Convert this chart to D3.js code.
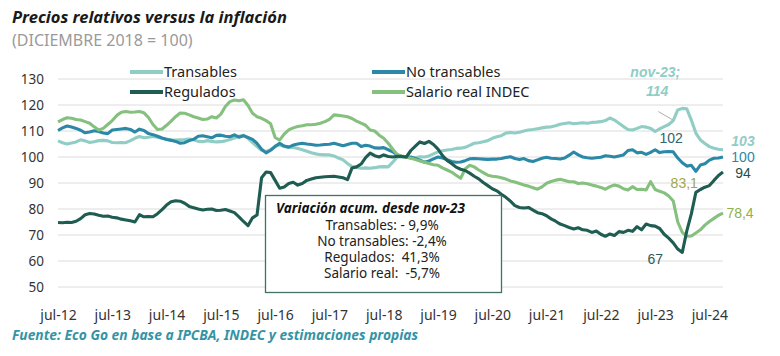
<!DOCTYPE html>
<html><head><meta charset="utf-8">
<script src="https://cdn.jsdelivr.net/npm/d3@7/dist/d3.min.js"></script>
<style>
html,body{margin:0;padding:0;background:#fff;}
svg{display:block;font-family:"Noto Sans",sans-serif;}
</style></head>
<body><svg id="c" width="780" height="356"></svg>
<script>
// ---------- DATA ----------
const startMonth = new Date(2012, 6, 1);   // jul-12
const endMonth = new Date(2024, 10, 1);    // exclusive -> last = oct-24
const months = d3.timeMonth.range(startMonth, endMonth);
const tickLabels = ["jul-12","jul-13","jul-14","jul-15","jul-16","jul-17","jul-18","jul-19","jul-20","jul-21","jul-22","jul-23","jul-24"];
const yTicks = [50,60,70,80,90,100,110,120,130];

const transables = [
106.2,105.5,105.0,105.4,105.8,106.6,106.2,105.6,105.9,106.3,106.4,106.2,
105.6,105.5,105.6,105.5,106.3,107.2,107.9,107.4,107.6,107.9,107.6,107.2,
106.9,106.6,106.5,106.6,106.7,106.9,106.6,106.0,105.9,106.3,106.0,105.8,
105.9,106.2,106.7,107.3,108.0,108.4,107.2,105.5,104.0,102.6,102.1,102.8,
104.2,104.6,104.0,103.8,103.7,103.3,102.8,102.2,101.6,101.2,100.9,100.8,
100.8,100.4,99.6,98.9,97.5,96.3,96.0,95.7,95.8,95.7,95.9,96.2,
96.3,96.2,98.0,100.0,100.0,100.0,99.5,99.7,100.1,100.0,100.4,101.2,
102.0,102.4,102.7,102.9,103.3,103.4,103.7,104.5,105.3,105.5,105.9,106.3,
107.2,107.8,108.2,109.2,109.4,109.2,109.5,110.0,110.4,110.6,110.9,111.2,
111.5,111.6,112.0,112.6,112.9,113.2,112.8,113.0,113.2,113.0,113.3,113.4,
113.6,114.0,115.0,114.2,113.0,111.7,110.6,110.4,111.0,111.7,111.5,111.0,
109.8,110.8,111.7,112.5,114.0,118.1,118.7,118.5,114.2,109.2,106.6,105.2,
104.0,103.4,103.0,102.8];

const noTransables = [
110.2,111.2,111.9,111.5,111.0,110.3,109.3,109.6,110.1,109.8,109.2,109.0,
110.4,110.6,110.8,111.0,110.6,109.6,110.7,110.2,109.0,108.6,108.0,107.3,
106.7,106.4,106.0,105.3,105.5,106.3,106.8,108.0,108.2,107.8,107.4,108.3,
108.4,108.0,107.8,108.5,107.6,108.2,107.5,106.8,105.2,103.0,101.6,102.6,
104.0,105.3,104.2,103.8,104.6,105.0,105.3,105.0,104.8,104.5,104.6,104.8,
104.9,105.3,104.8,104.3,104.8,105.3,105.3,104.0,104.5,104.2,103.5,103.4,
103.6,102.8,102.0,100.8,100.2,100.0,100.0,99.4,98.8,98.0,98.5,99.3,
100.0,99.6,99.0,98.3,98.0,98.1,98.6,99.3,99.4,99.3,99.2,99.1,
99.2,99.2,99.4,99.8,100.1,99.4,99.0,99.4,98.6,98.3,98.9,99.5,
99.9,99.5,99.4,99.2,99.6,100.7,101.9,100.8,100.0,99.7,99.5,99.7,
99.9,100.5,100.3,100.0,100.4,100.8,102.5,102.8,101.6,101.8,101.0,101.8,
102.8,101.7,102.0,102.1,102.0,99.6,97.8,96.5,96.8,94.5,96.9,97.4,
98.8,99.5,99.6,100.0];

const regulados = [
74.8,74.7,74.9,74.8,75.3,76.3,77.8,78.3,78.1,77.6,77.2,77.3,
76.8,76.6,76.1,75.8,75.5,75.0,77.8,77.0,77.1,77.0,78.2,79.8,
81.5,82.8,83.2,83.0,82.2,81.0,80.5,80.0,79.6,79.9,80.0,79.4,
79.5,79.8,79.2,78.6,77.0,75.2,73.6,76.6,77.7,92.0,94.2,94.0,
91.0,88.0,88.5,89.8,90.3,89.2,89.8,91.0,91.5,92.0,92.2,92.4,
92.5,92.6,92.3,92.0,91.3,95.8,96.2,97.3,99.8,101.5,100.5,100.0,
100.8,100.2,100.0,100.3,100.2,100.0,102.5,104.2,105.8,105.2,106.0,104.8,
103.0,100.5,98.7,97.5,96.1,95.3,94.8,93.8,92.6,91.6,90.2,89.0,
87.8,87.0,85.7,84.5,83.0,81.3,80.6,80.4,80.6,79.6,78.6,78.2,
77.4,76.2,75.3,74.2,73.6,72.9,72.3,72.8,72.0,71.8,71.0,71.5,
70.3,69.5,70.4,69.8,71.3,71.0,71.8,71.4,73.2,72.0,74.2,73.6,
73.4,72.5,70.3,68.8,67.0,64.6,63.3,71.6,78.1,86.4,87.5,88.4,
89.0,91.0,92.9,94.2];

const salarioReal = [
113.5,114.4,115.1,114.9,114.4,114.2,113.6,113.0,111.6,110.4,111.0,112.5,
114.0,116.0,117.2,117.5,117.2,117.3,117.5,117.0,115.2,112.5,110.6,110.8,
112.2,113.8,115.5,116.9,116.8,116.2,115.5,115.0,114.4,114.6,115.5,115.0,
116.5,119.4,121.3,121.9,121.6,122.0,119.8,116.8,115.5,114.9,114.0,112.8,
107.5,106.5,108.8,110.4,111.2,111.7,112.0,112.4,112.4,112.6,113.0,113.6,
114.5,116.2,116.0,115.8,115.5,114.8,113.8,113.0,112.2,110.4,110.0,108.4,
107.2,105.3,103.0,101.0,100.4,100.0,99.5,99.0,98.5,98.0,97.5,97.0,
96.8,95.8,95.0,94.2,93.0,91.8,95.4,96.8,96.2,95.0,94.0,93.0,
92.6,92.4,92.0,91.5,90.8,90.4,89.8,89.2,88.8,88.2,87.6,88.5,
89.9,90.6,91.1,91.4,91.0,90.5,90.5,89.8,90.0,89.7,89.2,88.8,
88.3,87.6,88.6,89.2,88.8,87.8,87.3,88.6,87.5,87.6,87.3,90.5,
87.5,86.8,86.2,85.0,83.1,75.0,71.0,69.5,69.6,70.8,72.0,73.8,
75.2,76.4,77.6,78.4];

const seriesNames = ["Transables","No transables","Regulados","Salario real INDEC"];
const boxTitle = "Variación acum. desde nov-23";
const boxLines = ["Transables: - 9,9%","No transables: -2,4%","Regulados:  41,3%","Salario real:  -5,7%"];

// ---------- CHART ----------
const svg = d3.select("#c");
const fmt = d3.timeFormat("%Y-%m");
const keys = months.map(fmt);
const monthName = ["ene","feb","mar","abr","may","jun","jul","ago","sep","oct","nov","dic"];
const lbl = d => monthName[d.getMonth()] + "-" + String(d.getFullYear()).slice(2);

const x = d3.scalePoint().domain(keys).range([58, 723]);
const y = d3.scaleLinear().domain([50, 130]).range([287, 79]);

const colors = {
  "Transables": "#8fcdc5",
  "No transables": "#2b89a7",
  "Regulados": "#1f5d52",
  "Salario real INDEC": "#86c07f"
};
const dataBy = {
  "Transables": transables,
  "No transables": noTransables,
  "Regulados": regulados,
  "Salario real INDEC": salarioReal
};

// grid
svg.append("g").selectAll("line").data(yTicks).join("line")
  .attr("x1", 58).attr("x2", 723)
  .attr("y1", d => y(d)).attr("y2", d => y(d))
  .attr("stroke", "#dcdcdc").attr("stroke-width", 1);

// y axis
const yAxis = svg.append("g").attr("transform", "translate(44,0)")
  .call(d3.axisLeft(y).tickValues(yTicks).tickSize(0).tickPadding(0));
yAxis.select(".domain").remove();
yAxis.selectAll("text").attr("font-size", 13.5).attr("fill", "#333")
  .attr("font-family", "Noto Sans");

// x axis
const tickKeys = keys.filter((k, i) => tickLabels.includes(lbl(months[i])));
const xAxis = svg.append("g").attr("transform", "translate(0,310)")
  .call(d3.axisBottom(x).tickValues(tickKeys).tickSize(0).tickPadding(0)
    .tickFormat(k => lbl(months[keys.indexOf(k)])));
xAxis.select(".domain").remove();
xAxis.selectAll("text").attr("font-size", 14).attr("fill", "#333")
  .attr("font-family", "Noto Sans").attr("dy", "0.7em");

// lines
const line = d3.line().x((d, i) => x(keys[i])).y(d => y(d)).curve(d3.curveLinear);
["Transables","No transables","Salario real INDEC","Regulados"].forEach(n => {
  svg.append("path").datum(dataBy[n])
    .attr("fill", "none").attr("stroke", colors[n]).attr("stroke-width", 3.1)
    .attr("stroke-linejoin", "round").attr("d", line);
});

// legend
const legPos = [[130, 72], [372, 72], [130, 92], [372, 92]];
seriesNames.forEach((n, i) => {
  const [lx, ly] = legPos[i];
  svg.append("line").attr("x1", lx).attr("x2", lx + 33).attr("y1", ly).attr("y2", ly)
    .attr("stroke", colors[n]).attr("stroke-width", 4);
  svg.append("text").attr("x", lx + 34).attr("y", ly).attr("dy", "0.35em")
    .attr("font-size", 14.5).attr("fill", "#222").text(n);
});

// titles
svg.append("text").attr("x", 12).attr("y", 23).attr("font-size", 16.5)
  .attr("font-weight", "bold").attr("font-style", "italic").attr("fill", "#1a1a1a")
  .text("Precios relativos versus la inflación");
svg.append("text").attr("x", 12).attr("y", 46).attr("font-size", 16)
  .attr("fill", "#9a9a9a").text("(DICIEMBRE 2018 = 100)");
svg.append("text").attr("x", 12).attr("y", 340).attr("font-size", 13.8)
  .attr("font-weight", "bold").attr("font-style", "italic").attr("fill", "#3593a6")
  .text("Fuente: Eco Go en base a IPCBA, INDEC y estimaciones propias");

// annotation box
const box = svg.append("g");
box.append("rect").attr("x", 265.5).attr("y", 195.5).attr("width", 236).attr("height", 97)
  .attr("fill", "#fff").attr("stroke", "#3f7268").attr("stroke-width", 1.3);
box.append("text").attr("x", 276).attr("y", 213).attr("font-size", 13.5)
  .attr("font-weight", "bold").attr("font-style", "italic").attr("fill", "#111").text(boxTitle);
boxLines.forEach((t, i) => {
  box.append("text").attr("x", 382).attr("y", 229.5 + i * 16.3).attr("text-anchor", "middle")
    .attr("font-size", 13.5).attr("fill", "#222").style("white-space", "pre").text(t);
});

// data labels
const LF = "Liberation Sans, Arial, sans-serif";
const iNov = keys.indexOf("2023-11");
const iLast = keys.length - 1;
const px = i => x(keys[i]);
// transables nov-23 callout
svg.append("line").attr("x1", px(iNov) - 15).attr("y1", y(117.5))
  .attr("x2", px(iNov) - 1).attr("y2", y(transables[iNov]) - 1)
  .attr("stroke", "#999").attr("stroke-width", 0.8);
svg.append("text").attr("x", px(iNov) - 18).attr("y", 77).attr("text-anchor", "middle")
  .attr("font-family", LF).attr("font-size", 14).attr("font-weight", "bold").attr("font-style", "italic")
  .attr("fill", "#8fcdc5").text("nov-23;");
svg.append("text").attr("x", px(iNov) - 16).attr("y", 96).attr("text-anchor", "middle")
  .attr("font-family", LF).attr("font-size", 14).attr("font-weight", "bold").attr("font-style", "italic")
  .attr("fill", "#8fcdc5").text(d3.format(".0f")(transables[iNov]));

function vlabel(txt, xx, yy, col, opts = {}) {
  svg.append("text").attr("x", xx).attr("y", yy).attr("dy", "0.35em")
    .attr("text-anchor", opts.anchor || "middle").attr("font-size", 14)
    .attr("font-family", LF)
    .attr("font-weight", opts.bold ? "bold" : null)
    .attr("font-style", opts.bold ? "italic" : null)
    .attr("fill", col).text(txt);
}
const comma = v => d3.format(".1f")(v).replace(".", ",");
vlabel(d3.format(".0f")(noTransables[iNov]), px(iNov) - 2, 138, "#35626c");
vlabel(d3.format(".0f")(regulados[iNov]), px(iNov) - 18, 259, "#2d5a5a");
vlabel(comma(salarioReal[iNov]), px(iNov) + 11, 183, "#a4a548");
vlabel(d3.format(".0f")(transables[iLast]), px(iLast) + 20, 141, "#8fcdc5", {bold: true});
vlabel(d3.format(".0f")(noTransables[iLast]), px(iLast) + 20, 157, "#2b89a7");
vlabel(d3.format(".0f")(regulados[iLast]), px(iLast) + 20, 173, "#1f4f47");
vlabel(comma(salarioReal[iLast]), px(iLast) + 17, 213.5, "#8fb04a");
</script>
</body></html>
